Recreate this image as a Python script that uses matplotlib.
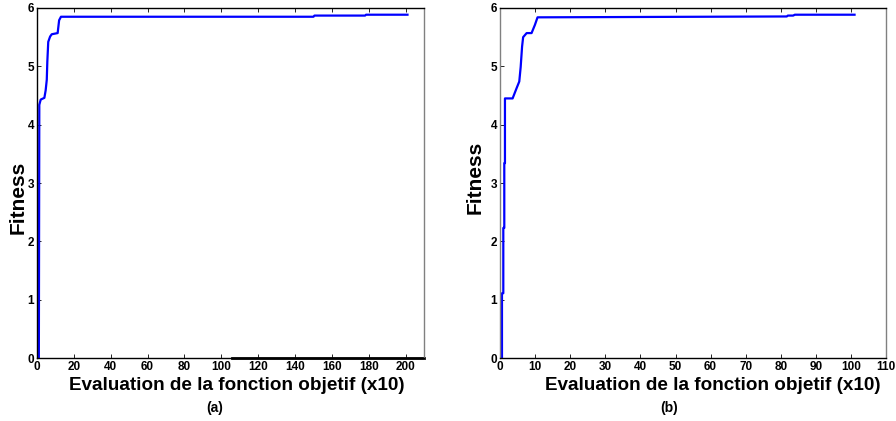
import matplotlib.pyplot as plt

plt.rcParams['font.family'] = ['Liberation Sans', 'DejaVu Sans']
plt.rcParams['font.weight'] = 'bold'

# (a) fitness vs evaluations (x10)
evalA = [1.0, 1.25, 2.0, 4.0, 4.7, 5.3, 5.6, 6.1, 7.1, 8.0, 11.2, 11.6, 12.0, 13.0,
         150.0, 150.5, 178.0, 178.5, 201.0]
fitA = [0.0, 4.34, 4.43, 4.46, 4.59, 4.77, 5.08, 5.42, 5.51, 5.55, 5.57, 5.68, 5.79, 5.85,
        5.85, 5.87, 5.87, 5.885, 5.885]
# black segment lying on the bottom axis of (a)
baseA_x = [106, 210]
baseA_y = [0, 0]

# (b)
evalB = [0.57, 0.57, 0.95, 0.95, 1.23, 1.23, 1.42, 1.42, 3.6, 4.7, 5.5, 5.9, 6.3, 6.6, 7.6,
         9.0, 9.95, 10.7, 81.7, 82.0, 83.5, 84.0, 101.0]
fitB = [0.0, 1.11, 1.11, 2.23, 2.23, 3.34, 3.34, 4.45, 4.45, 4.62, 4.74, 4.99, 5.34, 5.5, 5.57,
        5.57, 5.71, 5.84, 5.855, 5.87, 5.87, 5.885, 5.885]

fig = plt.figure(figsize=(8.96, 4.21), dpi=100)

def setup(ax, xlim, xticks, left_color, ylab_x, ylab_y):
    ax.set_xlim(*xlim)
    ax.set_ylim(0, 6)
    ax.set_xticks(xticks)
    ax.set_yticks(range(7))
    ax.tick_params(direction='in', length=3, width=0.6, labelsize=8.5, pad=2,
                   top=True, right=False, colors='black')
    for lab in ax.get_xticklabels() + ax.get_yticklabels():
        lab.set_fontweight('bold')
    ax.spines['top'].set_color('black')
    ax.spines['bottom'].set_color('black')
    ax.spines['left'].set_color(left_color)
    ax.spines['right'].set_color('#808080')
    for s in ax.spines.values():
        s.set_linewidth(1.0)
    ax.set_ylabel('Fitness', fontsize=15, fontweight='bold')
    ax.yaxis.set_label_coords(ylab_x, ylab_y, transform=ax.transAxes)

axA = fig.add_axes([0.0413, 0.1496, 0.432, 0.8314])
setup(axA, (0, 210), range(0, 201, 20), 'black', -0.025, 0.46)
axA.plot(evalA, fitA, color='#0000ff', lw=1.6)
axA.plot(baseA_x, baseA_y, color='black', lw=2.0, clip_on=False)
axA.set_xlabel('Evaluation de la fonction objetif (x10)', fontsize=13.6, fontweight='bold')
axA.xaxis.set_label_coords(0.517, -0.055, transform=axA.transAxes)
axA.xaxis.label.set_va('top')

axB = fig.add_axes([0.558, 0.1496, 0.431, 0.8314])
setup(axB, (0, 110), range(0, 111, 10), '#808080', -0.04, 0.515)
axB.plot(evalB, fitB, color='#0000ff', lw=1.6)
axB.set_xlabel('Evaluation de la fonction objetif (x10)', fontsize=13.6, fontweight='bold')
axB.xaxis.set_label_coords(0.55, -0.055, transform=axB.transAxes)
axB.xaxis.label.set_va('top')

fig.text(215 / 896, 1 - 408 / 421, '(a)', fontsize=10, fontweight='bold', ha='center', va='center')
fig.text(669 / 896, 1 - 408 / 421, '(b)', fontsize=10, fontweight='bold', ha='center', va='center')

fig.savefig('out.png', dpi=100)
